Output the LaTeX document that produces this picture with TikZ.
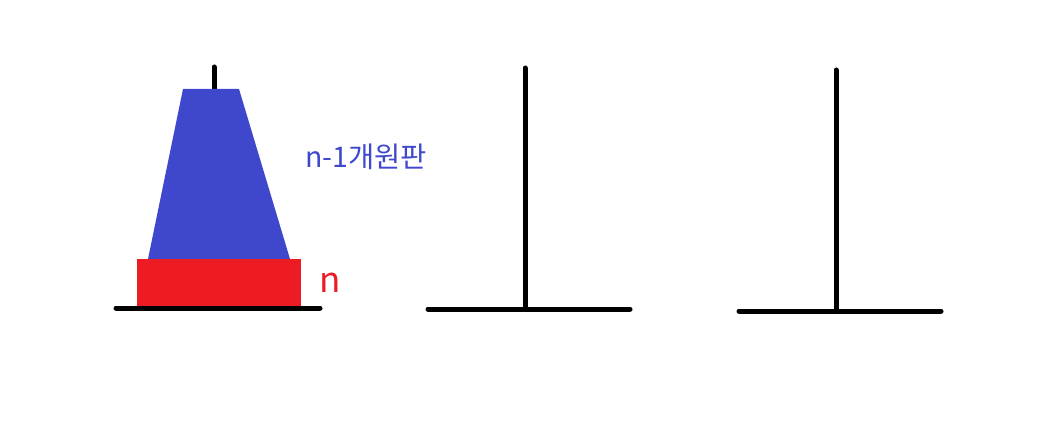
\documentclass[tikz,border=0pt]{standalone}
\usepackage{fontspec}
\setmainfont{Noto Sans CJK KR}
\definecolor{pblue}{HTML}{3F48CC}
\definecolor{pred}{HTML}{ED1C24}
\begin{document}
\begin{tikzpicture}[x=1pt,y=-1pt,
  peg/.style={line width=5pt,line cap=round,black},
  lbl/.style={inner sep=0pt,anchor=center}]
\useasboundingbox (0,0) rectangle (1056,443);
% peg 1
\draw[peg] (214,67) -- (214,92);
\draw[peg] (116,308) -- (320,308);
% disks
\fill[pblue] (183,89) -- (239,89) -- (290,259) -- (148,259) -- cycle;
\fill[pred] (137,259) rectangle (301,306);
% peg 2
\draw[peg] (525,68) -- (525,308);
\draw[peg] (428,309) -- (630,309);
% peg 3
\draw[peg] (836,70) -- (836,310);
\draw[peg] (739,311) -- (941,311);
% labels
\node[lbl,text=pblue,font=\fontsize{28.5}{32}\selectfont] (t1) at (366,157) {n-1개원판};
\node[lbl,text=pred,font=\fontsize{35}{40}\selectfont] (t2) at (330,283) {n};
\end{tikzpicture}
\end{document}
